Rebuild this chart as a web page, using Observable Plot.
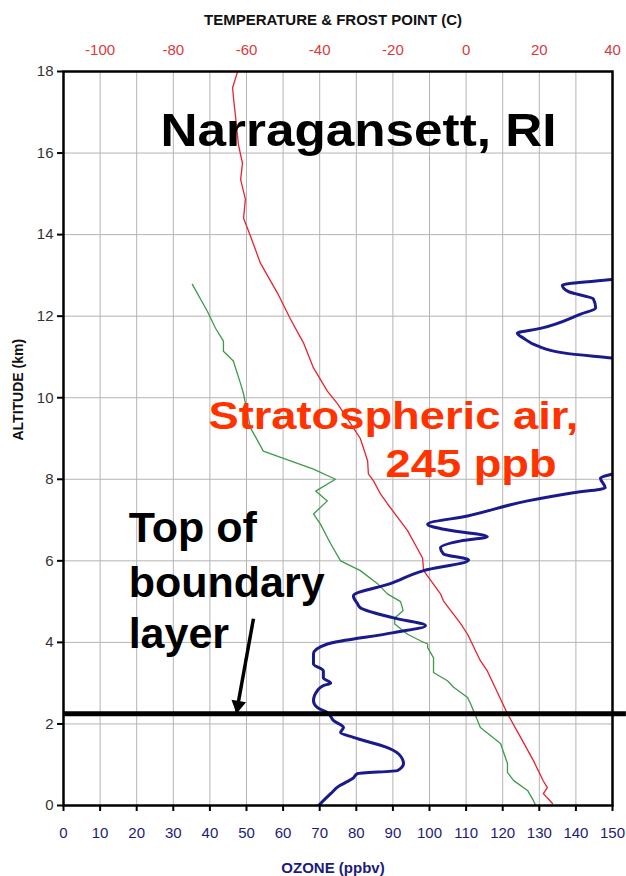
<!DOCTYPE html>
<html>
<head>
<meta charset="utf-8">
<script src="https://cdn.jsdelivr.net/npm/d3@7"></script>
<script src="https://cdn.jsdelivr.net/npm/@observablehq/plot@0.6"></script>
<style>
  html, body { margin: 0; padding: 0; background: #fff; }
</style>
</head>
<body>
<div id="chart"></div>
<script>
// Ozonesonde profile, Narragansett RI

// Temperature (°C) by altitude (km)
const tempAlt = [0.05, 0.29, 0.44, 0.6, 1.1, 1.67, 2.25, 3.3, 3.55, 4.2, 4.46, 5.02, 5.19, 5.76, 6.07, 6.74, 7.4, 7.64, 7.96, 8.13, 8.45, 9.0, 9.26, 9.85, 10.16, 10.73, 11.34, 11.93, 12.56, 13.3, 13.96, 14.4, 14.87, 15.35, 15.75, 16.2, 16.9, 17.3, 17.6, 17.98];
const tempC   = [23.6, 21.1, 22.2, 21.1, 18.4, 14.9, 11.3, 5.8, 3.9, 0.4, -1.5, -6.2, -7.0, -11.6, -11.9, -16.0, -21.5, -23.4, -25.3, -26.7, -26.9, -28.9, -30.8, -35.1, -37.9, -41.7, -44.4, -48.0, -51.5, -56.2, -58.9, -60.8, -60.3, -61.6, -61.1, -62.2, -63.0, -63.5, -63.8, -62.5];

// Frost point (°C) by altitude (km)
const frostAlt = [0, 0.12, 0.37, 0.61, 0.81, 1.03, 1.52, 1.91, 2.5, 2.65, 2.9, 3.06, 3.26, 3.62, 3.87, 3.96, 4.04, 4.2, 4.45, 4.6, 4.78, 5.0, 5.19, 5.44, 5.76, 6.0, 6.42, 6.9, 7.15, 7.47, 7.71, 8.0, 8.25, 8.45, 8.69, 9.26, 10.09, 10.34, 10.9, 11.14, 11.39, 11.71, 12.12, 12.78];
const frostC   = [19.0, 18.4, 16.8, 13.0, 11.3, 11.3, 9.4, 3.9, 1.2, 0.4, -3.4, -5.1, -8.9, -8.9, -10.5, -10.5, -12.5, -16.0, -19.5, -19.5, -17.2, -17.9, -21.5, -24.2, -28.9, -34.3, -37.0, -39.8, -41.7, -37.9, -41.1, -35.7, -41.7, -48.0, -55.4, -58.9, -60.8, -61.6, -63.6, -66.3, -66.3, -68.5, -70.7, -74.8];

// Ozone (ppbv) by altitude (km); stratospheric intrusion peaks at 245 ppb
const ozoneAlt = [0, 0.29, 0.49, 0.56, 0.66, 0.78, 0.86, 1.03, 1.27, 1.42, 1.67, 1.79, 1.91, 2.08, 2.28, 2.4, 2.57, 2.82, 2.94, 3.0, 3.13, 3.3, 3.47, 3.72, 3.96, 4.24, 4.41, 4.6, 4.85, 4.95, 5.14, 5.44, 5.76, 6.02, 6.17, 6.32, 6.49, 6.59, 6.78, 6.9, 7.1, 7.47, 7.67, 7.79, 8.03, 8.13, 9.5, 10.97, 11.1, 11.27, 11.46, 11.58, 11.7, 12.05, 12.2, 12.42, 12.6, 12.76, 12.9, 13.2];
const ozonePpb = [69.7, 73.0, 75.5, 77.0, 79.0, 80.3, 91.3, 92.9, 91.5, 88.5, 79.2, 75.7, 76.5, 73.8, 72.1, 69.4, 68.3, 69.4, 71.0, 73.0, 71.0, 71.0, 68.3, 68.3, 72.1, 90.2, 98.9, 90.2, 81.1, 80.3, 79.2, 89.3, 98.4, 110.7, 103.8, 103.0, 108.6, 115.8, 103.5, 99.5, 110.4, 126.8, 139.3, 148.0, 146.7, 150.0, 245.0, 150.0, 136.6, 129.5, 125.7, 124.0, 130.3, 141.3, 145.4, 144.8, 138.0, 136.3, 150.0, 175.0];

// Top of the boundary layer (km)
const boundaryAlt = 2.25;

// Tick values
const altTicks = [0, 2, 4, 6, 8, 10, 12, 14, 16, 18];
const ozoneTicks = [0, 10, 20, 30, 40, 50, 60, 70, 80, 90, 100, 110, 120, 130, 140, 150];
const tempTicks = [-100, -80, -60, -40, -20, 0, 20, 40];

// The temperature axis shares the ozone grid: -110 °C at 0 ppbv, 1 °C per ppbv
const T_OFFSET = 110;
const toOzoneUnits = t => t + T_OFFSET;

const temperature = tempAlt.map((alt, i) => ({alt, value: tempC[i]}));
const frostPoint = frostAlt.map((alt, i) => ({alt, value: frostC[i]}));
const ozone = ozoneAlt.map((alt, i) => ({alt, value: ozonePpb[i]}));

// Annotations (positions in ozone ppbv / km)
const notes = [
  {text: "Narragansett, RI", x: 26.5, y: 16.53, size: 47, color: "#000", len: 396},
  {text: "Stratospheric air,", x: 39.6, y: 9.55, size: 39, color: "#ff3300", len: 370},
  {text: "245 ppb", x: 88.0, y: 8.35, size: 39, color: "#ff3300", len: 171},
  {text: "Top of", x: 17.8, y: 6.8, size: 43, color: "#000", len: null},
  {text: "boundary", x: 17.8, y: 5.44, size: 43, color: "#000", len: null},
  {text: "layer", x: 17.8, y: 4.2, size: 43, color: "#000", len: null}
];
// pointer from the "layer" label down to the boundary line
const pointer = [{x1: 51.9, y1: 4.58, x2: 47.3, y2: 2.3}];
const pointerAngle = 190; // heading of the pointer, degrees clockwise from up

const FONT = "'Liberation Sans', Arial, Helvetica, sans-serif";

const chart = Plot.plot({
  width: 626,
  height: 876,
  marginLeft: 63,
  marginRight: 14,
  marginTop: 71,
  marginBottom: 71,
  style: {fontFamily: FONT, background: "#fff", overflow: "visible"},
  x: {domain: [0, 150]},
  y: {domain: [0, 18]},
  marks: [
    Plot.gridX(ozoneTicks.slice(1, -1), {stroke: "#b4b4b4", strokeOpacity: 1, strokeWidth: 1}),
    Plot.gridY(altTicks.slice(1, -1), {stroke: "#b4b4b4", strokeOpacity: 1, strokeWidth: 1}),

    // bottom: ozone
    Plot.axisX(ozoneTicks, {anchor: "bottom", tickSize: 6, tickPadding: 16, stroke: "#000", strokeWidth: 2, fill: "#1c1c7a", fontSize: 15, label: null, tickFormat: d => String(d)}),
    // top: temperature & frost point
    Plot.axisX(tempTicks.map(toOzoneUnits), {anchor: "top", tickSize: 0, tickPadding: 17, fill: "#d93a3a", fontSize: 15, label: null, tickFormat: d => String(d - T_OFFSET)}),
    // left: altitude
    Plot.axisY(altTicks, {anchor: "left", tickSize: 6, tickPadding: 4, stroke: "#000", strokeWidth: 2, fill: "#333", fontSize: 15, label: null, tickFormat: d => String(d)}),

    // axis titles
    Plot.text(["TEMPERATURE & FROST POINT (C)"], {frameAnchor: "top", dx: -5, dy: -57, fontSize: 15, fontWeight: "bold", fill: "#111"}),
    Plot.text(["OZONE (ppbv)"], {frameAnchor: "bottom", dx: -5, dy: 67, fontSize: 15, fontWeight: "bold", fill: "#1c1c7a"}),
    Plot.text(["ALTITUDE (km)"], {frameAnchor: "left", dx: -45, dy: 2, rotate: -90, fontSize: 14, fontWeight: "bold", fill: "#111"}),

    // profiles
    Plot.line(frostPoint, {x: d => toOzoneUnits(d.value), y: "alt", stroke: "#3d9a4a", strokeWidth: 1.3}),
    Plot.line(temperature, {x: d => toOzoneUnits(d.value), y: "alt", stroke: "#e8222e", strokeWidth: 1.3}),
    Plot.line(ozone, {x: "value", y: "alt", stroke: "#1a1a8c", strokeWidth: 3, curve: "monotone-y", clip: true}),

    Plot.frame({stroke: "#000", strokeWidth: 2.5}),

    // boundary layer top
    Plot.ruleY([boundaryAlt], {x1: 0, x2: 153.8, stroke: "#000", strokeWidth: 5}),
    Plot.link(pointer, {x1: "x1", y1: "y1", x2: "x2", y2: "y2", stroke: "#000", strokeWidth: 3.5}),
    Plot.dot(pointer, {x: "x2", y: "y2", dx: 1.4, dy: -6.5, symbol: "triangle", r: 5.5, fill: "#000", stroke: "none", rotate: pointerAngle}),

    // annotations
    Plot.text(notes, {x: "x", y: "y", text: "text", textAnchor: "start", fontSize: d => d.size, fill: "color", fontWeight: "bold"})
  ]
});

// stretch the wide headline texts to their set width
d3.select(chart).selectAll("text").each(function () {
  const note = notes.find(n => n.text === this.textContent);
  if (note && note.len) {
    d3.select(this).attr("textLength", note.len).attr("lengthAdjust", "spacingAndGlyphs");
  }
});

document.getElementById("chart").appendChild(chart);
</script>
</body>
</html>
